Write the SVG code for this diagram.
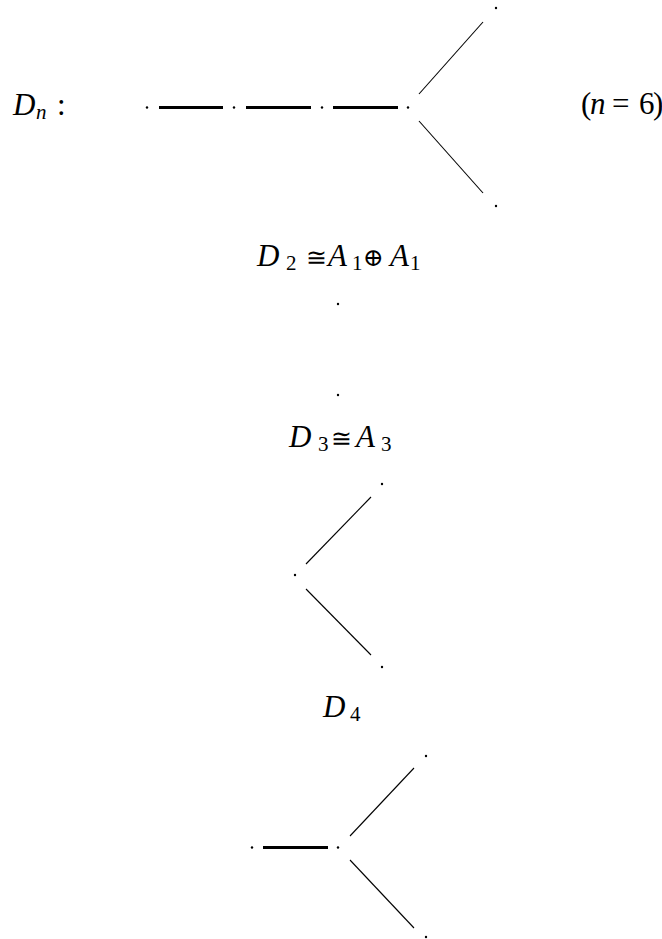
<svg xmlns="http://www.w3.org/2000/svg" width="662" height="939" viewBox="0 0 662 939">
<style>
.t{font-family:"Liberation Serif","DejaVu Serif",serif;font-size:31px;fill:#000}
.i{font-style:italic}
.s{font-size:21px}
.si{font-size:21px;font-style:italic}
.r{font-family:"DejaVu Serif",serif;font-size:25px}
.dot{fill:#000}
.thick{stroke:#000;stroke-width:3;fill:none}
.thin{stroke:#000;stroke-width:1.1;fill:none}
</style>
<rect width="662" height="939" fill="#fff"/>
<g id="labels">
  <text class="t"><tspan class="i" x="13" y="115">D</tspan><tspan class="si" x="36" y="119">n</tspan><tspan x="57" y="115">:</tspan></text>
  <text class="t"><tspan x="581" y="114">(</tspan><tspan class="i" x="590" y="114">n</tspan><tspan x="612" y="114">=</tspan><tspan x="639" y="114">6</tspan><tspan x="653" y="114">)</tspan></text>
  <text class="t"><tspan class="i" x="257" y="266">D</tspan><tspan class="s" x="286" y="270">2</tspan><tspan class="r" x="306" y="266">≅</tspan><tspan class="i" x="328" y="266">A</tspan><tspan class="s" x="352" y="270">1</tspan><tspan class="r" x="363" y="266">⊕</tspan><tspan class="i" x="390" y="266">A</tspan><tspan class="s" x="410" y="270">1</tspan></text>
  <text class="t"><tspan class="i" x="289" y="447">D</tspan><tspan class="s" x="318" y="451">3</tspan><tspan class="r" x="331" y="447">≅</tspan><tspan class="i" x="356" y="447">A</tspan><tspan class="s" x="381" y="451">3</tspan></text>
  <text class="t"><tspan class="i" x="323" y="717">D</tspan><tspan class="s" x="350" y="721">4</tspan></text>
</g>
<g id="connectors">
  <line class="thick" x1="159" y1="107.5" x2="223" y2="107.5"/>
  <line class="thick" x1="246" y1="107.5" x2="311" y2="107.5"/>
  <line class="thick" x1="333" y1="107.5" x2="398" y2="107.5"/>
  <line class="thin" x1="419" y1="94" x2="483" y2="22"/>
  <line class="thin" x1="419" y1="121" x2="483" y2="193"/>
  <line class="thin" x1="306" y1="564" x2="371" y2="497"/>
  <line class="thin" x1="306" y1="589" x2="371" y2="655"/>
  <line class="thick" x1="263" y1="847.5" x2="328" y2="847.5"/>
  <line class="thin" x1="350" y1="836" x2="414" y2="768"/>
  <line class="thin" x1="350" y1="860" x2="414" y2="928"/>
</g>
<g id="n1"><circle class="dot" cx="147" cy="107.5" r="1.2"/></g>
<g id="n2"><circle class="dot" cx="234" cy="107.5" r="1.2"/></g>
<g id="n3"><circle class="dot" cx="322" cy="107.5" r="1.2"/></g>
<g id="n4"><circle class="dot" cx="408" cy="107.5" r="1.2"/></g>
<g id="n5"><circle class="dot" cx="496" cy="8" r="1.2"/></g>
<g id="n6"><circle class="dot" cx="496" cy="206" r="1.2"/></g>
<g id="d2a"><circle class="dot" cx="338" cy="304" r="1.2"/></g>
<g id="d2b"><circle class="dot" cx="338" cy="395" r="1.2"/></g>
<g id="d3a"><circle class="dot" cx="382" cy="484" r="1.2"/></g>
<g id="d3b"><circle class="dot" cx="295" cy="575" r="1.2"/></g>
<g id="d3c"><circle class="dot" cx="382" cy="667" r="1.2"/></g>
<g id="d4a"><circle class="dot" cx="252" cy="847.5" r="1.2"/></g>
<g id="d4b"><circle class="dot" cx="338" cy="847.5" r="1.2"/></g>
<g id="d4c"><circle class="dot" cx="426" cy="756" r="1.2"/></g>
<g id="d4d"><circle class="dot" cx="426" cy="937" r="1.2"/></g>
</svg>
